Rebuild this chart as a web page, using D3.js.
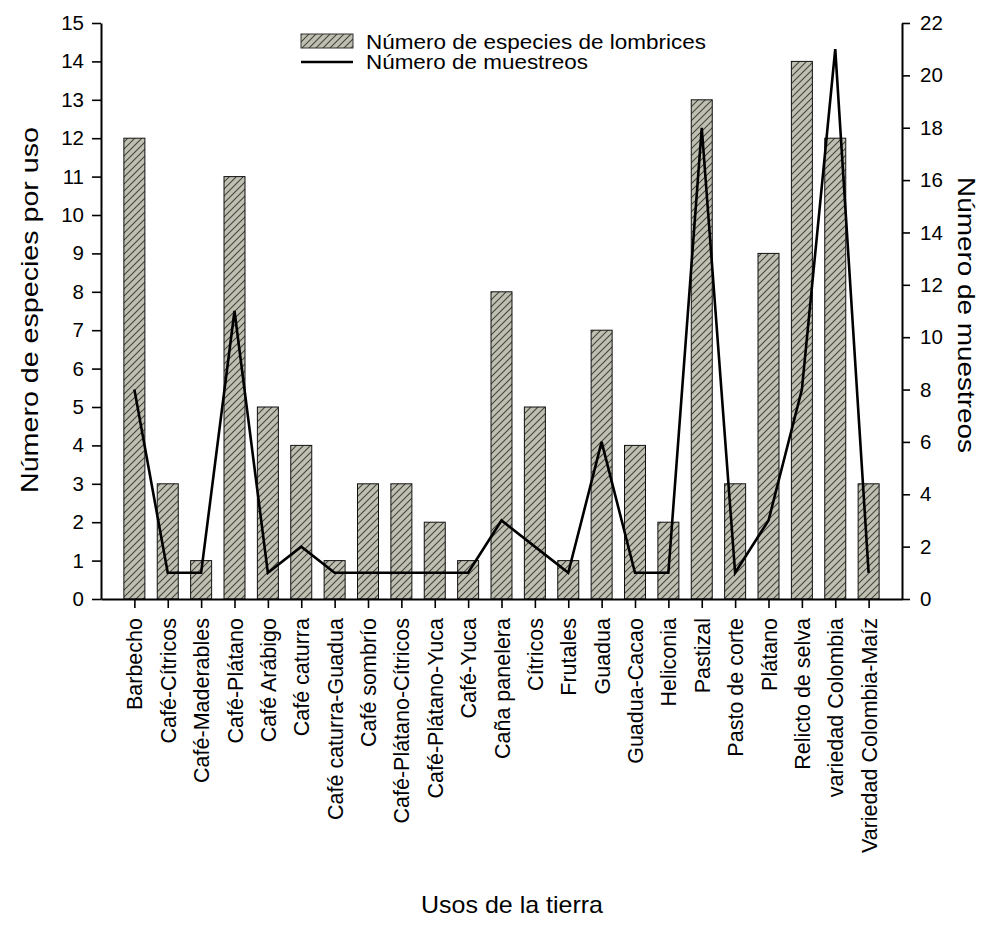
<!DOCTYPE html>
<html><head><meta charset="utf-8">
<script src="https://cdn.jsdelivr.net/npm/d3@7"></script>
<style>
html,body{margin:0;padding:0;background:#fff;}
svg{display:block;font-family:"Liberation Sans",Arial,sans-serif;}
</style></head>
<body>
<svg id="chart" width="986" height="936"></svg>
<script>
const categories = ["Barbecho","Café-Cítricos","Café-Maderables","Café-Plátano","Café Arábigo","Café caturra","Café caturra-Guadua","Café sombrío","Café-Plátano-Cítricos","Café-Plátano-Yuca","Café-Yuca","Caña panelera","Cítricos","Frutales","Guadua","Guadua-Cacao","Heliconia","Pastizal","Pasto de corte","Plátano","Relicto de selva","variedad Colombia","Variedad Colombia-Maíz"];
const especies = [12,3,1,11,5,4,1,3,3,2,1,8,5,1,7,4,2,13,3,9,14,12,3];
const muestreos = [8,1,1,11,1,2,1,1,1,1,1,3,2,1,6,1,1,18,1,3,8,21,1];
const leftTicks = d3.range(0,16);
const rightTicks = d3.range(0,23,2);
const legendLabels = ["Número de especies de lombrices","Número de muestreos"];
const titles = {y:"Número de especies por uso", y2:"Número de muestreos", x:"Usos de la tierra"};

const svg = d3.select("#chart");
const L = 101, R = 902, B = 599, T = 23;

const defs = svg.append("defs");
const pat = defs.append("pattern").attr("id","hatch").attr("patternUnits","userSpaceOnUse")
  .attr("width",7).attr("height",7);
pat.append("rect").attr("width",7).attr("height",7).attr("fill","#bfbfb2");
pat.append("path").attr("d","M-1,8 L8,-1 M-2,2 L2,-2 M5,9 L9,5").attr("stroke","#45453f").attr("stroke-width",1.1);

const x = d3.scalePoint().domain(categories).range([L,R]).padding(1);
const yL = d3.scaleLinear().domain([0,15]).range([B,T]);
const yR = d3.scaleLinear().domain([0,22]).range([B,T]);
const bw = 21;

// bars
svg.append("g").selectAll("rect").data(categories).join("rect")
  .attr("x", d=>x(d)-bw/2).attr("width", bw)
  .attr("y", (d,i)=>yL(especies[i])).attr("height",(d,i)=>B-yL(especies[i]))
  .attr("fill","url(#hatch)").attr("stroke","#111").attr("stroke-width",1);

// line
const line = d3.line().x((d,i)=>x(categories[i])).y(d=>yR(d));
svg.append("path").datum(muestreos).attr("d",line)
  .attr("fill","none").attr("stroke","#000").attr("stroke-width",2.6).attr("stroke-linejoin","miter");

// axes
const ax = svg.append("g").attr("transform",`translate(${L},0)`)
  .call(d3.axisLeft(yL).tickValues(leftTicks).tickSize(9).tickSizeOuter(0).tickPadding(8));
const ar = svg.append("g").attr("transform",`translate(${R},0)`)
  .call(d3.axisRight(yR).tickValues(rightTicks).tickSize(8).tickSizeOuter(0).tickPadding(10));
const ab = svg.append("g").attr("transform",`translate(0,${B})`)
  .call(d3.axisBottom(x).tickSize(9).tickSizeOuter(0).tickPadding(5));
[ax,ar,ab].forEach(g=>{
  g.select(".domain").attr("stroke","#000").attr("stroke-width",2);
  g.selectAll(".tick line").attr("stroke","#000").attr("stroke-width",1.6);
  g.selectAll("text").attr("font-family","Liberation Sans, Arial, sans-serif").attr("fill","#000");
});
ax.selectAll("text").attr("font-size",20.5);
ar.selectAll("text").attr("font-size",20.5);
ab.selectAll("text").attr("font-size",21.5)
  .attr("transform","rotate(-90)").attr("text-anchor","end")
  .attr("x",-19).attr("y",0).attr("dy","0.35em");

// legend
const lg = svg.append("g");
lg.append("rect").attr("x",301).attr("y",34).attr("width",52).attr("height",14)
  .attr("fill","url(#hatch)").attr("stroke","#333").attr("stroke-width",1);
lg.append("text").attr("x",366).attr("y",49).attr("font-size",20)
  .attr("textLength",340).attr("lengthAdjust","spacingAndGlyphs").text(legendLabels[0]);
lg.append("line").attr("x1",301).attr("x2",353).attr("y1",62).attr("y2",62)
  .attr("stroke","#000").attr("stroke-width",2.6);
lg.append("text").attr("x",366).attr("y",69).attr("font-size",20)
  .attr("textLength",222).attr("lengthAdjust","spacingAndGlyphs").text(legendLabels[1]);

// titles
svg.append("text").attr("transform","translate(38,310) rotate(-90)").attr("text-anchor","middle")
  .attr("font-size",24).attr("textLength",366).attr("lengthAdjust","spacingAndGlyphs").text(titles.y);
svg.append("text").attr("transform","translate(958,315) rotate(90)").attr("text-anchor","middle")
  .attr("font-size",24).attr("textLength",276).attr("lengthAdjust","spacingAndGlyphs").text(titles.y2);
svg.append("text").attr("x",512).attr("y",913).attr("text-anchor","middle")
  .attr("font-size",24).attr("textLength",182).attr("lengthAdjust","spacingAndGlyphs").text(titles.x);
</script>
</body></html>
